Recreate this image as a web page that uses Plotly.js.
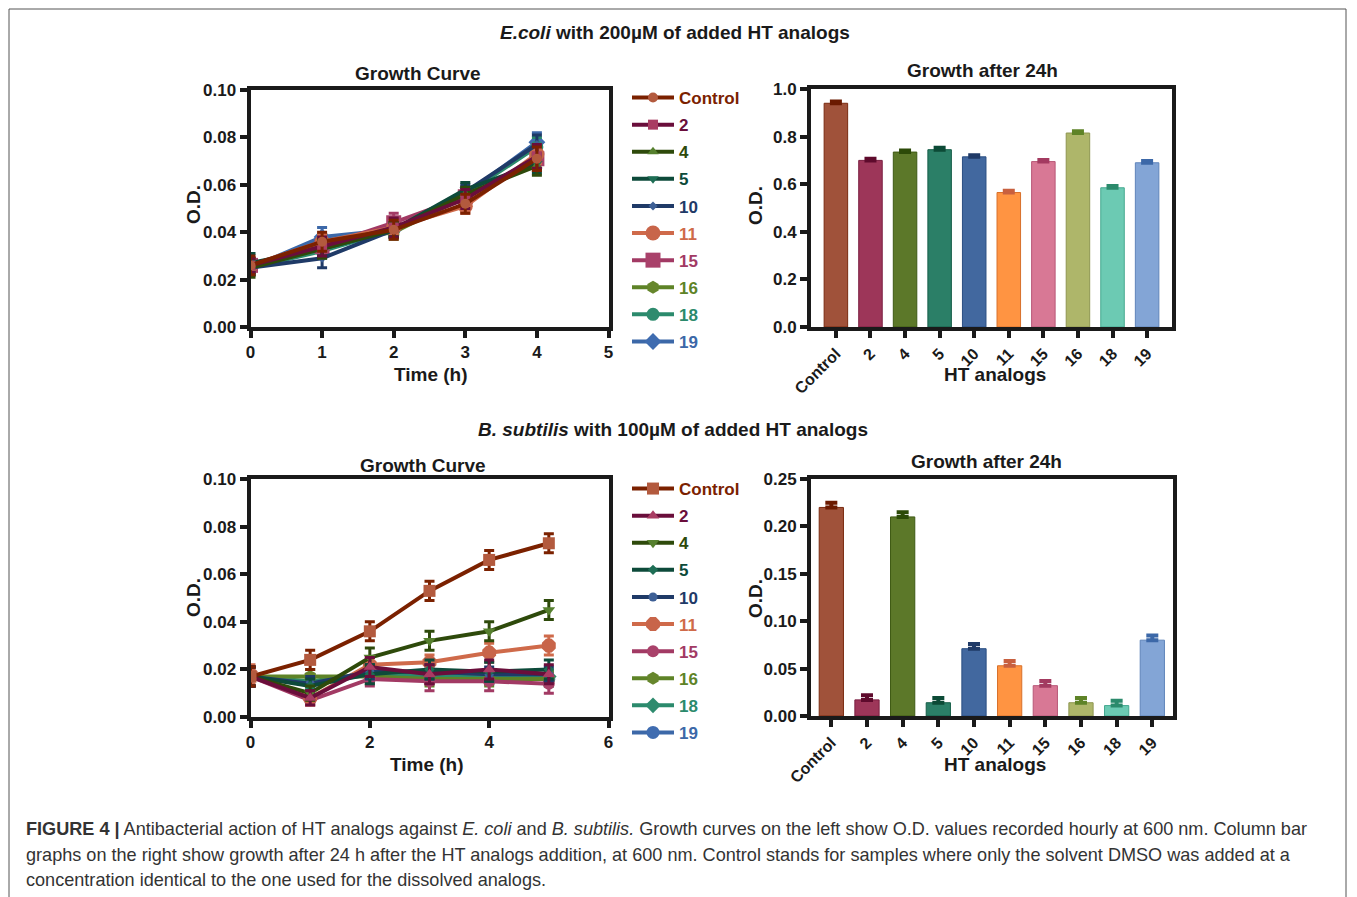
<!DOCTYPE html>
<html>
<head>
<meta charset="utf-8">
<script src="https://cdn.plot.ly/plotly-3.0.1.min.js"></script>
<style>html,body{margin:0;padding:0;background:#fff;}#chart{width:1357px;height:897px;}</style>
</head>
<body>
<div id="chart"></div>
<script>
// ---------- DATA ----------
const seriesNames = ['Control','2','4','5','10','11','15','16','18','19'];

// E. coli growth curve (O.D. vs time, h)
const ecoliTime = [0,1,2,3,4];
const ecoli_Control = [0.026,0.036,0.041,0.052,0.071];
const ecoli_2  = [0.026,0.034,0.042,0.054,0.072];
const ecoli_4  = [0.025,0.033,0.041,0.056,0.068];
const ecoli_5  = [0.027,0.033,0.041,0.058,0.069];
const ecoli_10 = [0.025,0.029,0.041,0.057,0.077];
const ecoli_11 = [0.026,0.036,0.042,0.051,0.073];
const ecoli_15 = [0.026,0.034,0.044,0.055,0.071];
const ecoli_16 = [0.025,0.036,0.040,0.055,0.070];
const ecoli_18 = [0.025,0.032,0.041,0.056,0.076];
const ecoli_19 = [0.025,0.038,0.041,0.056,0.078];
const ecoliErr_Control = [0.004,0.004,0.004,0.004,0.005];
const ecoliErr_2  = [0.003,0.004,0.004,0.004,0.005];
const ecoliErr_4  = [0.004,0.004,0.003,0.003,0.004];
const ecoliErr_5  = [0.004,0.003,0.003,0.003,0.004];
const ecoliErr_10 = [0.003,0.004,0.003,0.003,0.004];
const ecoliErr_11 = [0.003,0.003,0.003,0.003,0.004];
const ecoliErr_15 = [0.003,0.003,0.004,0.004,0.004];
const ecoliErr_16 = [0.003,0.003,0.003,0.003,0.004];
const ecoliErr_18 = [0.003,0.003,0.003,0.003,0.004];
const ecoliErr_19 = [0.003,0.004,0.003,0.003,0.004];

// B. subtilis growth curve
const bsubTime = [0,1,2,3,4,5];
const bsub_Control = [0.017,0.024,0.036,0.053,0.066,0.073];
const bsub_2  = [0.017,0.008,0.021,0.018,0.020,0.018];
const bsub_4  = [0.017,0.010,0.025,0.032,0.036,0.045];
const bsub_5  = [0.017,0.013,0.018,0.020,0.019,0.020];
const bsub_10 = [0.017,0.014,0.019,0.019,0.018,0.018];
const bsub_11 = [0.018,0.008,0.022,0.023,0.027,0.030];
const bsub_15 = [0.017,0.007,0.016,0.015,0.015,0.014];
const bsub_16 = [0.017,0.017,0.017,0.016,0.016,0.016];
const bsub_18 = [0.017,0.015,0.018,0.017,0.017,0.017];
const bsub_19 = [0.017,0.014,0.018,0.018,0.017,0.016];
const bsubErr_Control = [0.004,0.004,0.004,0.004,0.004,0.004];
const bsubErr_2  = [0.004,0.003,0.004,0.004,0.004,0.004];
const bsubErr_4  = [0.004,0.003,0.004,0.004,0.004,0.004];
const bsubErr_5  = [0.004,0.003,0.004,0.004,0.004,0.004];
const bsubErr_10 = [0.004,0.003,0.003,0.003,0.003,0.003];
const bsubErr_11 = [0.004,0.003,0.003,0.003,0.004,0.004];
const bsubErr_15 = [0.004,0.002,0.003,0.004,0.004,0.004];
const bsubErr_16 = [0.004,0.003,0.003,0.003,0.003,0.003];
const bsubErr_18 = [0.004,0.003,0.003,0.003,0.003,0.003];
const bsubErr_19 = [0.004,0.003,0.003,0.003,0.003,0.003];

// Growth after 24h (bars)
const ecoliBar = [0.940,0.700,0.735,0.745,0.715,0.565,0.695,0.815,0.585,0.690];
const ecoliBarErr = [0.008,0.007,0.007,0.008,0.007,0.008,0.007,0.007,0.007,0.008];
const bsubBar = [0.220,0.017,0.210,0.014,0.071,0.053,0.032,0.014,0.011,0.080];
const bsubBarErr = [0.005,0.005,0.005,0.005,0.005,0.005,0.005,0.005,0.005,0.005];

const ecoliSeries = [ecoli_Control,ecoli_2,ecoli_4,ecoli_5,ecoli_10,ecoli_11,ecoli_15,ecoli_16,ecoli_18,ecoli_19];
const ecoliErrs = [ecoliErr_Control,ecoliErr_2,ecoliErr_4,ecoliErr_5,ecoliErr_10,ecoliErr_11,ecoliErr_15,ecoliErr_16,ecoliErr_18,ecoliErr_19];
const bsubSeries = [bsub_Control,bsub_2,bsub_4,bsub_5,bsub_10,bsub_11,bsub_15,bsub_16,bsub_18,bsub_19];
const bsubErrs = [bsubErr_Control,bsubErr_2,bsubErr_4,bsubErr_5,bsubErr_10,bsubErr_11,bsubErr_15,bsubErr_16,bsubErr_18,bsubErr_19];

// ---------- STYLE ----------
const lineColors = ['#7B2100','#6A0E3B','#2E4A0B','#0D4A3A','#1F3A67','#CF6A4A','#A23A64','#5E8327','#2B8A6C','#3C68A8'];
const markerColors = ['#B35A3E','#A93C63','#56802E','#1E6E55','#3D5F95','#C8654A','#A9416A','#66862C','#2E8B6E','#3F6CB0'];
const topSymbols = ['circle','square','triangle-up','triangle-down','diamond','circle','square','hexagon','circle','diamond'];
const topSizes = [10,10,10,10,7,15,15,13,13,13];
const botSymbols = ['square','triangle-up','triangle-down','diamond','circle','octagon','circle','hexagon','diamond','circle'];
const botSizes = [12,11,11,8,9,15,12,13,12,13];
const barFill = ['#A0523A','#9D3659','#5C7829','#2B7F67','#42689F','#FF9442','#D87895','#AEB66A','#6CCAB3','#83A5D6'];
const barLine = ['#7A2A10','#7A1E40','#3E5A14','#165E48','#2A4E82','#D8702A','#B85878','#8E9650','#45A890','#5F84BA'];
const barErr = ['#6B1A00','#5E0A2C','#2C4A08','#0C4A36','#1F3A67','#C8603F','#A33A60','#5E8327','#2B8A6C','#3C68A8'];

const W = 1357, H = 897;
const FONT = 'Liberation Sans, Arial, Helvetica, sans-serif';
const INK = '#1a1a1a';
function px(x){ return x / W; }
function py(y){ return 1 - y / H; }

const traces = [];
// line charts, reverse draw order so Control is on top; legendrank keeps Control first in the legend
for (let i = seriesNames.length - 1; i >= 0; i--) {
  traces.push({
    type:'scatter', mode:'lines+markers', x: ecoliTime, y: ecoliSeries[i],
    xaxis:'x', yaxis:'y', legend:'legend', legendgroup:'e'+i, legendrank: i + 1,
    name:'<span style="color:'+lineColors[i]+'">'+seriesNames[i]+'</span>',
    line:{color:lineColors[i], width:4},
    marker:{symbol:topSymbols[i], size:topSizes[i], color:markerColors[i]},
    error_y:{type:'data', array: ecoliErrs[i], color: lineColors[i], thickness:3, width:5},
    hoverinfo:'skip'
  });
}
for (let i = seriesNames.length - 1; i >= 0; i--) {
  traces.push({
    type:'scatter', mode:'lines+markers', x: bsubTime, y: bsubSeries[i],
    xaxis:'x3', yaxis:'y3', legend:'legend2', legendgroup:'b'+i, legendrank: i + 1,
    name:'<span style="color:'+lineColors[i]+'">'+seriesNames[i]+'</span>',
    line:{color:lineColors[i], width:4},
    marker:{symbol:botSymbols[i], size:botSizes[i], color:markerColors[i]},
    error_y:{type:'data', array: bsubErrs[i], color: lineColors[i], thickness:3, width:5},
    hoverinfo:'skip'
  });
}
// bar charts: one trace per category so each error bar takes its own colour
for (let i = 0; i < seriesNames.length; i++) {
  traces.push({
    type:'bar', x:[seriesNames[i]], y:[ecoliBar[i]], xaxis:'x2', yaxis:'y2', showlegend:false, width:0.68,
    marker:{color:barFill[i], line:{color:barLine[i], width:1}},
    error_y:{type:'data', array:[ecoliBarErr[i]], arrayminus:[0], symmetric:false, color:barErr[i], thickness:4, width:6},
    hoverinfo:'skip'
  });
  traces.push({
    type:'bar', x:[seriesNames[i]], y:[bsubBar[i]], xaxis:'x4', yaxis:'y4', showlegend:false, width:0.68,
    marker:{color:barFill[i], line:{color:barLine[i], width:1}},
    error_y:{type:'data', array:[bsubBarErr[i]], arrayminus:[0], symmetric:false, color:barErr[i], thickness:4, width:6},
    hoverinfo:'skip'
  });
}

const tickFont = {family:FONT, size:17, color:INK, weight:'bold'};
const barTickFont = {family:FONT, size:16, color:INK, weight:'bold'};
function axisBase(extra){
  return Object.assign({
    showline:true, linewidth:4, linecolor:INK, mirror:true, showgrid:false, zeroline:false,
    ticks:'outside', ticklen:7, tickwidth:4, tickcolor:INK, tickfont:tickFont, fixedrange:true
  }, extra);
}

const legendBase = {xanchor:'left', yanchor:'top', traceorder:'grouped', itemwidth:42, tracegroupgap:2,
  font:{family:FONT, size:17, weight:'bold'}, bgcolor:'rgba(0,0,0,0)', itemclick:false, itemdoubleclick:false};

const layout = {
  width:W, height:H, margin:{l:0,r:0,t:0,b:0}, paper_bgcolor:'#fff', plot_bgcolor:'#fff',
  showlegend:true, barmode:'overlay', font:{family:FONT, color:INK},
  xaxis: axisBase({domain:[px(250.5),px(608.5)], range:[0,5], tickvals:[0,1,2,3,4,5], anchor:'y'}),
  yaxis: axisBase({domain:[py(327),py(90)], range:[0,0.1], tickvals:[0,0.02,0.04,0.06,0.08,0.10], tickformat:'.2f', anchor:'x'}),
  xaxis2: axisBase({domain:[px(811),px(1172)], range:[-0.72,9.72], type:'category', categoryarray:seriesNames, categoryorder:'array', tickangle:-45, anchor:'y2', tickfont:barTickFont}),
  yaxis2: axisBase({domain:[py(327),py(89)], range:[0,1.0], tickvals:[0,0.2,0.4,0.6,0.8,1.0], tickformat:'.1f', anchor:'x2'}),
  xaxis3: axisBase({domain:[px(250.5),px(608.5)], range:[0,6], tickvals:[0,2,4,6], anchor:'y3'}),
  yaxis3: axisBase({domain:[py(717),py(479)], range:[0,0.1], tickvals:[0,0.02,0.04,0.06,0.08,0.10], tickformat:'.2f', anchor:'x3'}),
  xaxis4: axisBase({domain:[px(811),px(1173)], range:[-0.57,9.58], type:'category', categoryarray:seriesNames, categoryorder:'array', tickangle:-45, anchor:'y4', tickfont:barTickFont}),
  yaxis4: axisBase({domain:[py(716),py(479)], range:[0,0.25], tickvals:[0,0.05,0.10,0.15,0.20,0.25], tickformat:'.2f', anchor:'x4'}),
  legend: Object.assign({x:px(627), y:py(80)}, legendBase),
  legend2: Object.assign({x:px(627), y:py(471)}, legendBase),
  shapes: [
    {type:'rect', xref:'paper', yref:'paper', x0:px(9), x1:px(1346), y0:-0.02, y1:py(9), line:{color:'#555', width:1}, fillcolor:'rgba(0,0,0,0)', layer:'below'}
  ],
  annotations: []
};

function ann(text, x, y, size, extra){
  layout.annotations.push(Object.assign({
    text:text, x:px(x), y:py(y), xref:'paper', yref:'paper', showarrow:false,
    xanchor:'center', yanchor:'middle', font:{family:FONT, size:size, color:INK, weight:'bold'}
  }, extra||{}));
}
ann('<i>E.coli</i> with 200µM of added HT analogs', 675, 33, 19);
ann('<i>B. subtilis</i> with 100µM of added HT analogs', 673, 429, 19);
ann('Growth Curve', 418, 73, 19);
ann('Growth Curve', 423, 465, 19);
ann('Growth after 24h', 982, 70, 19);
ann('Growth after 24h', 986, 461, 19);
ann('O.D.', 193, 205, 19, {textangle:-90});
ann('O.D.', 193, 598, 19, {textangle:-90});
ann('O.D.', 755, 205, 19, {textangle:-90});
ann('O.D.', 755, 598, 19, {textangle:-90});
ann('Time (h)', 431, 375, 19);
ann('Time (h)', 427, 764, 19);
ann('HT analogs', 995, 375, 19);
ann('HT analogs', 995, 764, 19);

const captionLines = [
  '<b>FIGURE 4 |</b> Antibacterial action of HT analogs against <i>E. coli</i> and <i>B. subtilis.</i> Growth curves on the left show O.D. values recorded hourly at 600 nm. Column bar',
  'graphs on the right show growth after 24 h after the HT analogs addition, at 600 nm. Control stands for samples where only the solvent DMSO was added at a',
  'concentration identical to the one used for the dissolved analogs.'
];
const captionY = [829, 855, 880];
captionLines.forEach(function(t, k){
  layout.annotations.push({
    text:t, x:px(24), y:py(captionY[k]), xref:'paper', yref:'paper', showarrow:false,
    xanchor:'left', yanchor:'middle', align:'left',
    font:{family:FONT, size:18.1, color:'#333', weight:'normal'}
  });
});

Plotly.newPlot('chart', traces, layout, {staticPlot:true, displayModeBar:false});
</script>
</body>
</html>
